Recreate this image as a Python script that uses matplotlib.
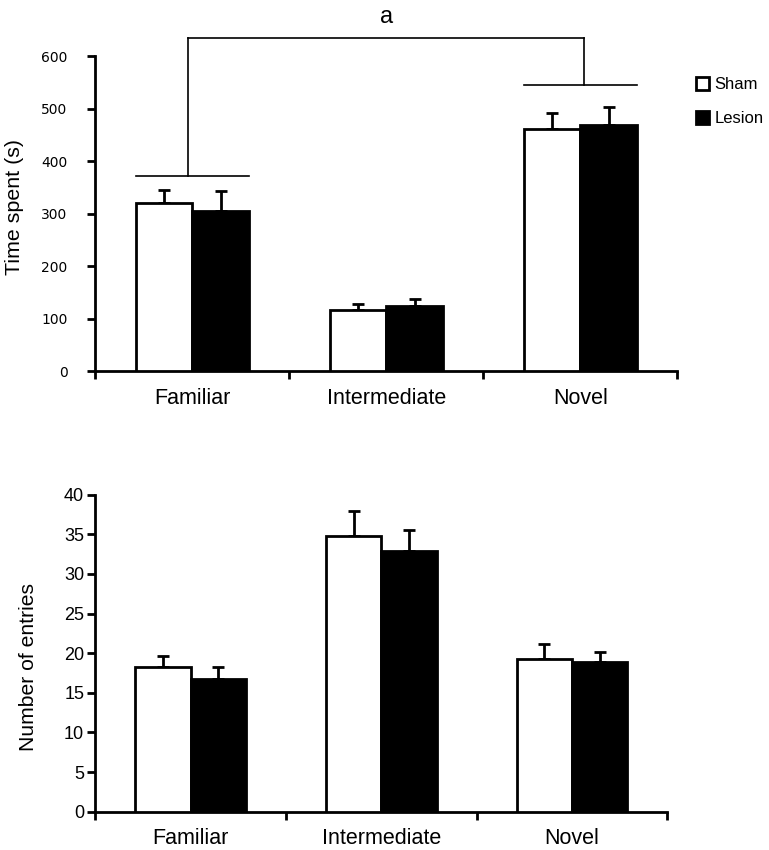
#!/usr/bin/env python3

import matplotlib
matplotlib.use("Agg")
import matplotlib.pyplot as plt
from matplotlib.patches import Patch
import numpy as np


categories = ['Familiar', 'Intermediate', 'Novel']
groups = ['Sham', 'Lesion']

# top panel: time spent (s)
time_sham = [321, 117, 461]
time_sham_err = [25, 11, 30]
time_lesion = [306, 125, 468]
time_lesion_err = [38, 13, 35]

# bracket levels for significance "a"
bracket_low = [372, 545]
bracket_top = 634

# bottom panel: number of entries
entries_sham = [18.3, 34.8, 19.3]
entries_sham_err = [1.4, 3.2, 1.9]
entries_lesion = [16.8, 32.9, 18.9]
entries_lesion_err = [1.5, 2.6, 1.3]

sans = ['Liberation Sans', 'DejaVu Sans']


def draw_bars(ax, sham, sham_err, lesion, lesion_err):
    x = np.arange(len(categories))
    w = 0.29
    ax.bar(x - w / 2, sham, w, color='white', edgecolor='black', linewidth=2, zorder=3)
    ax.bar(x + w / 2, lesion, w, color='black', edgecolor='black', linewidth=2, zorder=3)
    ax.errorbar(x - w / 2, sham, yerr=[np.zeros(3), sham_err], fmt='none',
                ecolor='black', elinewidth=2, capsize=4, capthick=2, zorder=2)
    ax.errorbar(x + w / 2, lesion, yerr=[np.zeros(3), lesion_err], fmt='none',
                ecolor='black', elinewidth=2, capsize=4, capthick=2, zorder=2)

    ax.set_xlim(-0.5, len(categories) - 0.5)
    ax.set_xticks(np.arange(len(categories) + 1) - 0.5)
    ax.set_xticklabels([])
    ax.set_xticks(x, minor=True)
    ax.set_xticklabels(categories, minor=True, fontsize=15.5, family=sans)
    ax.tick_params(axis='x', which='minor', length=0, pad=12)
    ax.tick_params(axis='x', which='major', length=6, width=2, direction='out')
    ax.tick_params(axis='y', length=6, width=2, direction='out')
    for s in ['top', 'right']:
        ax.spines[s].set_visible(False)
    for s in ['left', 'bottom']:
        ax.spines[s].set_linewidth(2)
    return x, w


fig = plt.figure(figsize=(7.69, 8.5), dpi=100)

# ---- top panel
ax1 = fig.add_axes([0.124, 0.563, 0.757, 0.371])
x, w = draw_bars(ax1, time_sham, time_sham_err, time_lesion, time_lesion_err)
ax1.set_ylim(0, 600)
ax1.set_yticks(range(0, 601, 100))
ax1.set_yticklabels([str(v) for v in range(0, 601, 100)], fontsize=10, family='DejaVu Sans')
ax1.tick_params(axis='y', pad=14)
ax1.set_ylabel('Time spent (s)', fontsize=15.4, family=sans)
ax1.yaxis.set_label_coords(-0.122, 0.522)

# significance bracket between Familiar and Novel
ends = [0, 2]
for i, lvl in zip(ends, bracket_low):
    ax1.plot([x[i] - w, x[i] + w], [lvl, lvl], color='black', lw=1.2, clip_on=False)
    ax1.plot([x[i] - 0.02 + 0.04 * (i == 2), x[i] - 0.02 + 0.04 * (i == 2)], [lvl, bracket_top],
             color='black', lw=1.2, clip_on=False)
ax1.plot([x[0] - 0.02, x[2] + 0.02], [bracket_top, bracket_top], color='black', lw=1.2, clip_on=False)
ax1.text(1, bracket_top + 40, 'a', ha='center', va='center', fontsize=17, family=sans)

handles = [Patch(facecolor='white', edgecolor='black', linewidth=2),
           Patch(facecolor='black', edgecolor='black', linewidth=2)]
ax1.legend(handles, groups, loc='upper left', bbox_to_anchor=(1.02, 0.955), frameon=False,
           prop={'family': sans, 'size': 12}, handlelength=0.8, handleheight=0.8,
           handletextpad=0.3, labelspacing=1.15, borderaxespad=0)

# ---- bottom panel
ax2 = fig.add_axes([0.124, 0.045, 0.744, 0.373])
draw_bars(ax2, entries_sham, entries_sham_err, entries_lesion, entries_lesion_err)
ax2.set_ylim(0, 40)
ax2.set_yticks(range(0, 41, 5))
ax2.set_yticklabels([str(v) for v in range(0, 41, 5)], fontsize=13, family=sans)
ax2.tick_params(axis='y', pad=2)
ax2.set_ylabel('Number of entries', fontsize=15.2, family=sans)
ax2.yaxis.set_label_coords(-0.10, 0.457)

fig.savefig('out.png', dpi=100)
